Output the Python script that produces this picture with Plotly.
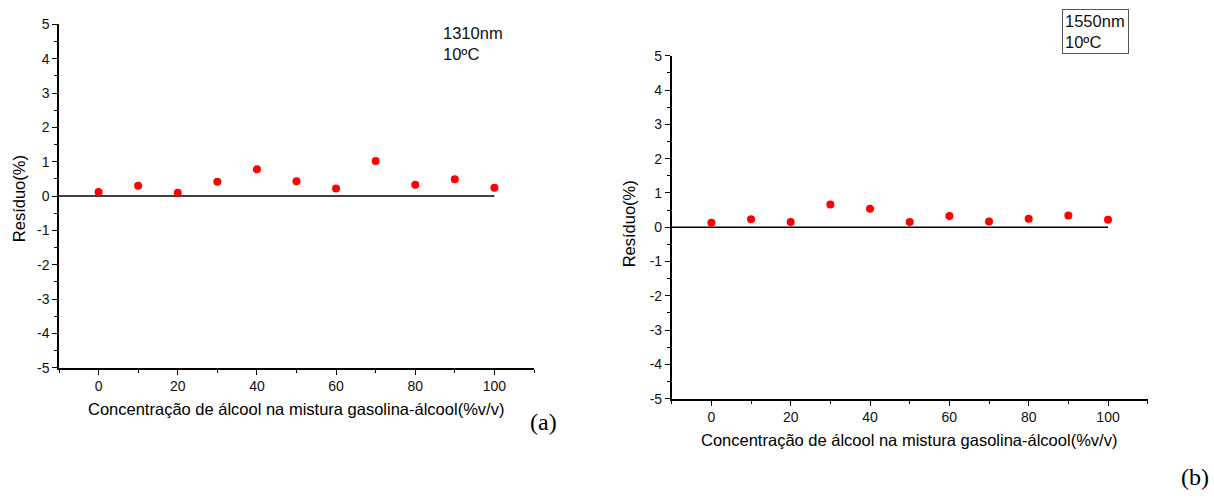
import plotly.graph_objects as go

# Data
concentration = [0, 10, 20, 30, 40, 50, 60, 70, 80, 90, 100]
residuo_1310 = [0.12, 0.30, 0.10, 0.42, 0.78, 0.43, 0.22, 1.02, 0.33, 0.49, 0.24]
residuo_1550 = [0.13, 0.23, 0.15, 0.66, 0.54, 0.15, 0.33, 0.17, 0.25, 0.34, 0.22]
zero_line_x = [-10, 100]
zero_line_y = [0, 0]
x_ticks = [0, 20, 40, 60, 80, 100]
x_ticktext = ["0", "20", "40", "60", "80", "100"]
y_ticks = [-5, -4, -3, -2, -1, 0, 1, 2, 3, 4, 5]
y_ticktext = ["-5", "-4", "-3", "-2", "-1", "0", "1", "2", "3", "4", "5"]

W, H = 1214, 499
FONT = "Liberation Sans, Arial, Helvetica, sans-serif"
SERIF = "Liberation Serif, Times New Roman, serif"

fig = go.Figure()

for xa, ya, vals in [("x", "y", residuo_1310), ("x2", "y2", residuo_1550)]:
    fig.add_trace(go.Scatter(x=zero_line_x, y=zero_line_y, mode="lines",
                             line=dict(color="black", width=1.5),
                             xaxis=xa, yaxis=ya, showlegend=False, hoverinfo="skip"))
    fig.add_trace(go.Scatter(x=concentration, y=vals, mode="markers",
                             marker=dict(color="#ff0000", size=8),
                             xaxis=xa, yaxis=ya, showlegend=False))

def px_x(p):
    return p / W

def px_y(p):
    return 1 - p / H

TICKFONT = dict(family=FONT, size=14, color="#111")
xcommon = dict(range=[-10, 110], tickvals=x_ticks, ticktext=x_ticktext, ticks="outside", ticklen=5,
               tickwidth=1.2, tickcolor="black", showline=True, linecolor="black", linewidth=1.5,
               showgrid=False, zeroline=False, tickfont=TICKFONT,
               minor=dict(tickvals=[-10, 10, 30, 50, 70, 90, 110], ticks="outside", ticklen=3,
                          tickwidth=1.2, tickcolor="black", showgrid=False),
               fixedrange=True)
ycommon = dict(range=[-5, 5], tickvals=y_ticks, ticktext=y_ticktext, ticks="outside", ticklen=5,
               tickwidth=1.2, tickcolor="black", showline=True, linecolor="black", linewidth=1.5,
               showgrid=False, zeroline=False, tickfont=TICKFONT,
               minor=dict(dtick=0.5, tick0=0, ticks="outside", ticklen=3, tickwidth=1.2,
                          tickcolor="black", showgrid=False),
               fixedrange=True)

fig.update_layout(
    width=W, height=H,
    margin=dict(l=0, r=0, t=0, b=0),
    paper_bgcolor="white", plot_bgcolor="white",
    xaxis=dict(domain=[px_x(59), px_x(534)], anchor="y", **xcommon),
    yaxis=dict(domain=[px_y(371.7), px_y(17)], anchor="x", **ycommon),
    xaxis2=dict(domain=[px_x(671.7), px_x(1147.7)], anchor="y2", **xcommon),
    yaxis2=dict(domain=[px_y(403.7), px_y(49.3)], anchor="x2", **ycommon),
    showlegend=False,
)

def A(text, x, y, **kw):
    d = dict(text=text, x=px_x(x), y=px_y(y), xref="paper", yref="paper", showarrow=False,
             xanchor="center", yanchor="middle")
    d.update(kw)
    return d

TF = dict(family=FONT, size=16.5, color="black")
ann = [
    A("Resíduo(%)", 18.5, 197, textangle=-90, font=TF),
    A("Resíduo(%)", 628.5, 223, textangle=-90, font=TF),
    A("Concentração de álcool na mistura gasolina-álcool(%v/v)", 296, 414, font=TF),
    A("Concentração de álcool na mistura gasolina-álcool(%v/v)", 909, 446, font=TF),
    A("1310nm<br>10ºC", 441, 14, xanchor="left", yanchor="top", align="left",
      font=dict(family=FONT, size=16.5, color="#111")),
    A("1550nm<br>10ºC", 1062, 1, xanchor="left", yanchor="top", align="left",
      bordercolor="#555", borderwidth=1, borderpad=2, width=61,
      font=dict(family=FONT, size=16.5, color="#111")),
    A("(a)", 543, 428, font=dict(family=SERIF, size=24, color="black")),
    A("(b)", 1195, 485, font=dict(family=SERIF, size=24, color="black")),
]
fig.update_layout(annotations=ann)

fig.write_html("out.html")
